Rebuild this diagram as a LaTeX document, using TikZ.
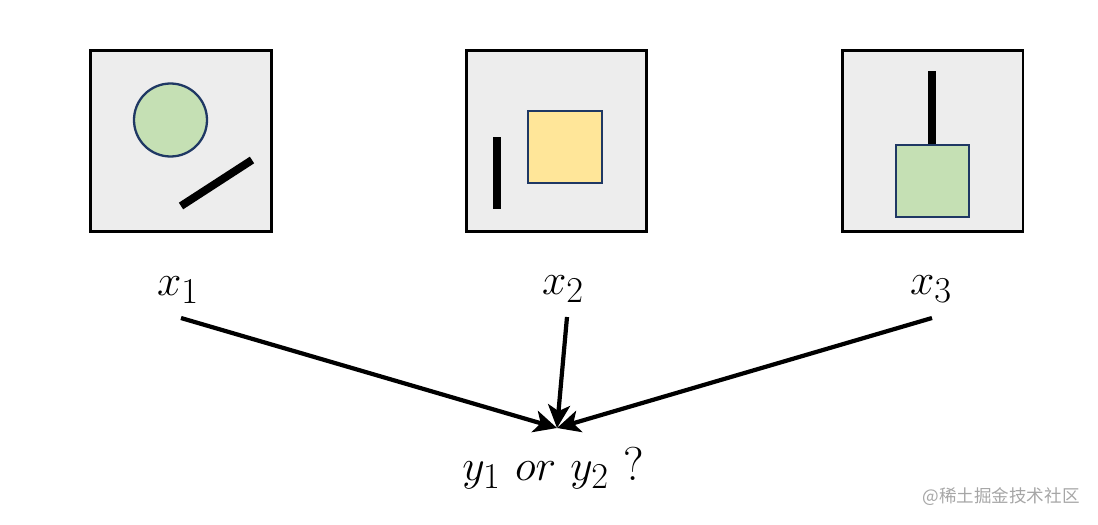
\documentclass[tikz,border=0pt]{standalone}
\usepackage{fontspec}
\newfontfamily\cjk{Noto Sans CJK SC}
\usetikzlibrary{arrows.meta}
\DeclareMathSizes{27}{27}{20}{15}
\definecolor{boxbg}{HTML}{EDEDED}
\definecolor{shgreen}{HTML}{C5E0B4}
\definecolor{shyellow}{HTML}{FFE699}
\definecolor{navy}{HTML}{1F3864}
\definecolor{wmgrey}{HTML}{A6A6A6}
\tikzset{
  panel/.style={draw=black, fill=boxbg, line width=1.7pt, minimum width=3.62cm, minimum height=3.62cm, inner sep=0pt},
  shapeedge/.style={draw=navy, line width=1.3pt},
  bar/.style={line width=4.5pt, line cap=butt},
  lbl/.style={anchor=base, inner sep=0pt, font=\fontsize{27}{31}\selectfont},
  arr/.style={line width=2.4pt, -{Stealth[length=4.6mm, width=4.4mm, inset=1.2mm]}},
  wm/.style={text=wmgrey, font=\cjk\fontsize{10}{12}\selectfont}
}
\begin{document}
\begin{tikzpicture}[x=0.02cm, y=-0.02cm]
\useasboundingbox (0,0) rectangle (1098,524);
% panels
\node[panel] (p1) at (181,141) {};
\node[panel] (p2) at (556.5,141) {};
\node[panel] (p3) at (932.5,141) {};
% panel 1 contents
\filldraw[fill=shgreen, shapeedge] (170.5,120) circle (36.5);
\draw[bar] (181,206) -- (252,160);
% panel 2 contents
\draw[bar] (497,137) -- (497,209);
\filldraw[fill=shyellow, shapeedge] (528,111) rectangle (602,183);
% panel 3 contents
\draw[bar] (932,71) -- (932,145);
\filldraw[fill=shgreen, shapeedge] (896,145) rectangle (969,217);
% labels
\node[lbl] (x1) at (178,295) {$x_1$};
\node[lbl] (x2) at (563,294) {$x_2$};
\node[lbl] (x3) at (931,294) {$x_3$};
\node[lbl] (yq) at (553,480) {$y_1~or~y_2$ ?};
% arrow ends
\coordinate (s1) at (181,318);
\coordinate (s2) at (567,317);
\coordinate (s3) at (932,318);
\coordinate (t) at (557,428);
\draw[arr] (s1) -- (t);
\draw[arr] (s2) -- (t);
\draw[arr] (s3) -- (t);
% watermark
\node[wm] (wmk) at (1001,497) {@稀土掘金技术社区};
\end{tikzpicture}
\end{document}
